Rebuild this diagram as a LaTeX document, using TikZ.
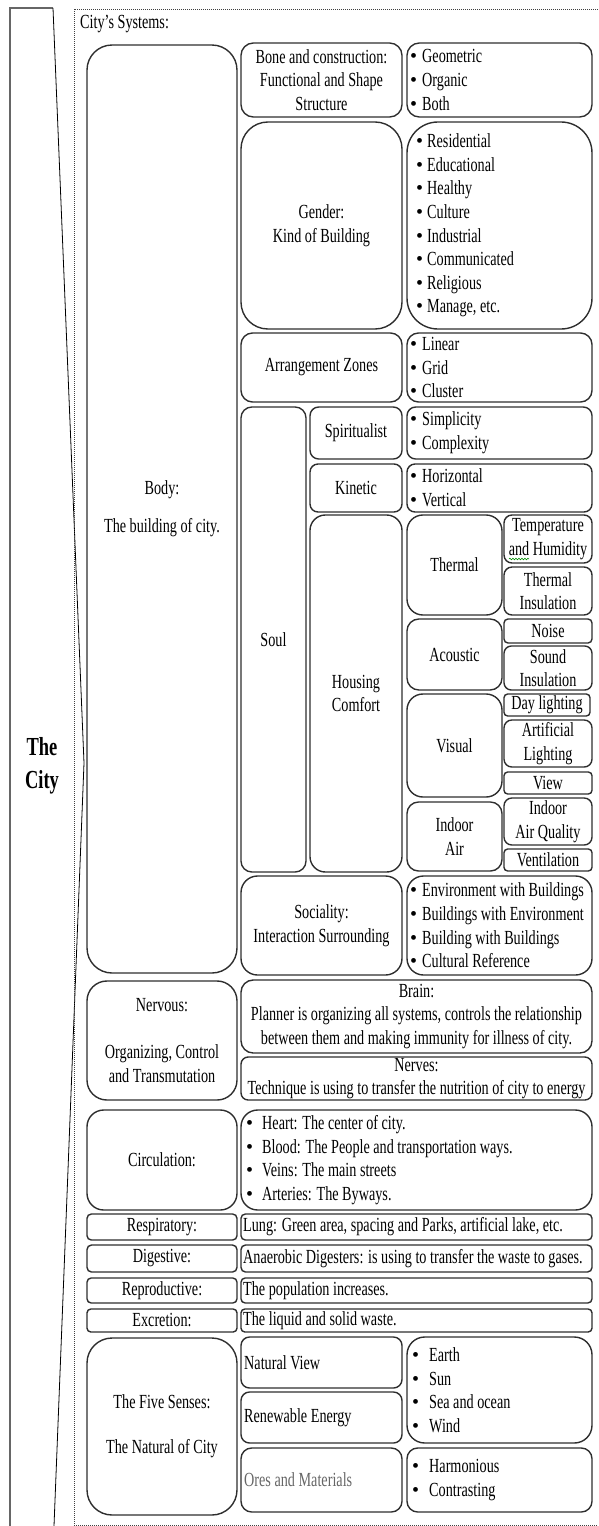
\documentclass[tikz,border=0pt]{standalone}
\usepackage{fontspec}
\setmainfont{Liberation Serif}[FakeStretch=0.71]
\newfontfamily\bulletfont{Liberation Serif}
\usetikzlibrary{decorations.pathmorphing}
\newcommand\txt{\fontsize{20}{23.6}\selectfont}
\newcommand\bl[1][12pt]{\makebox[#1][l]{{\bulletfont\textbullet}}}
\tikzset{
  box/.style={draw=black!82, line width=1.4pt, inner sep=0pt, align=center, font=\txt},
  txtnode/.style={inner sep=0pt, align=left, font=\txt},
  frame/.style={draw=black!75, line width=1pt, dash pattern=on 1pt off 1pt},
}
\newcommand\bx[7][]{%
  \pgfmathsetmacro\bxw{#5-#3}%
  \pgfmathsetmacro\bxh{#6-#4}%
  \pgfmathsetmacro\bxr{0.167*min(\bxw,\bxh)}%
  \node[box, minimum width=\bxw pt, minimum height=\bxh pt, rounded corners=\bxr pt, #1] (#2) at ({(#3+#5)/2},{(#4+#6)/2}) {#7};%
}
\newcommand\lbx[8][]{%
  \bx{#2}{#3}{#4}{#5}{#6}{}%
  \node[txtnode, anchor=west, #1] (#2t) at ({#3+#7},{(#4+#6)/2}) {#8};%
}
\begin{document}
\begin{tikzpicture}[x=1pt,y=-1pt]
\useasboundingbox (0,0) rectangle (598,1526);
% outer frames
\draw[black!60, line width=1.4pt] (10,1526) -- (10,8) -- (53,8);
\draw[black, line width=0.8pt] (53,8) -- (84,763) -- (54,1526);
\draw[frame] (598,9) -- (74,9) -- (74,1525) -- (598,1525);
\node[font=\bfseries\fontsize{26}{33}\selectfont, align=center, inner sep=0pt] (city) at (42,766) {The\\City};
\node[txtnode, anchor=west] (title) at (80,24) {City’s Systems:};
% Body
\bx{body}{87}{45}{237}{973}{Body:\\[14pt]The building of city.}
\bx{bone}{241}{43}{402}{117}{Bone and construction:\\Functional and Shape\\Structure}
\lbx{boneL}{407}{43}{592}{117}{3}{\bl Geometric\\\bl Organic\\\bl Both}
\bx{gender}{241}{122}{402}{329}{Gender:\\Kind of Building}
\lbx{genderL}{407}{122}{592}{329}{9}{\bl[11pt]Residential\\\bl[11pt]Educational\\\bl[11pt]Healthy\\\bl[11pt]Culture\\\bl[11pt]Industrial\\\bl[11pt]Communicated\\\bl[11pt]Religious\\\bl[11pt]Manage, etc.}
\bx{arr}{241}{333}{402}{402}{Arrangement Zones}
\lbx{arrL}{407}{333}{592}{402}{3}{\bl Linear\\\bl Grid\\\bl Cluster}
\bx{soul}{241}{407}{306}{872}{Soul}
\bx{spir}{310}{407}{402}{459}{Spiritualist}
\lbx{spirL}{407}{407}{592}{459}{3}{\bl Simplicity\\\bl Complexity}
\bx{kin}{310}{464}{402}{512}{Kinetic}
\lbx{kinL}{407}{464}{592}{512}{3}{\bl Horizontal\\\bl Vertical}
\bx{house}{310}{515}{402}{872}{Housing\\Comfort}
\bx{therm}{407}{515}{502}{615}{Thermal}
\bx{temp}{504}{515}{592}{563}{Temperature\\and Humidity}
\bx{thins}{504}{567}{592}{615}{Thermal\\Insulation}
\bx{acou}{407}{619}{502}{690}{Acoustic}
\bx{noise}{504}{619}{592}{643}{Noise}
\bx{sound}{504}{646}{592}{690}{Sound\\Insulation}
\bx{vis}{407}{694}{502}{797}{Visual}
\bx{day}{504}{694}{590}{716}{Day lighting}
\bx{art}{504}{720}{592}{767}{Artificial\\Lighting}
\bx{view}{504}{772}{592}{794}{View}
\bx{air}{407}{802}{502}{871}{Indoor\\Air}
\bx{iaq}{504}{798}{592}{845}{Indoor\\Air Quality}
\bx{vent}{504}{849}{592}{871}{Ventilation}
\draw[green!55!black, line width=0.6pt, decorate, decoration={snake, amplitude=0.8pt, segment length=3pt}] (509,559) -- (529,559);
\bx{soc}{241}{876}{402}{975}{Sociality:\\Interaction Surrounding}
\lbx{socL}{407}{876}{592}{975}{3}{\bl Environment with Buildings\\\bl Buildings with Environment\\\bl Building with Buildings\\\bl Cultural Reference}
% Nervous
\bx{nerv}{87}{981}{237}{1100}{Nervous:\\[24pt]Organizing, Control\\and Transmutation}
\bx{brain}{241}{980}{592}{1053}{Brain:\\Planner is organizing all systems, controls the relationship\\between them and making immunity for illness of city.}
\bx{nerves}{241}{1057}{592}{1100}{Nerves:\\Technique is using to transfer the nutrition of city to energy}
% Circulation
\bx{circ}{87}{1110}{237}{1210}{Circulation:}
\lbx{circL}{241}{1110}{592}{1210}{5}{\bl[16pt]Heart: The center of city.\\\bl[16pt]Blood: The People and transportation ways.\\\bl[16pt]Veins: The main streets\\\bl[16pt]Arteries: The Byways.}
\bx{resp}{87}{1214}{237}{1240}{Respiratory:}
\lbx{respL}{241}{1214}{592}{1240}{2}{Lung: Green area, spacing and Parks, artificial lake, etc.}
\bx{dig}{87}{1245}{237}{1272}{Digestive:}
\lbx{digL}{241}{1245}{592}{1272}{2}{Anaerobic Digesters: is using to transfer the waste to gases.}
\bx{repr}{87}{1278}{237}{1303}{Reproductive:}
\lbx{reprL}{241}{1278}{592}{1303}{2}{The population increases.}
\bx{excr}{87}{1309}{237}{1332}{Excretion:}
\lbx{excrL}{241}{1309}{592}{1332}{2}{The liquid and solid waste.}
% Five senses
\bx{five}{87}{1338}{237}{1515}{The Five Senses:\\[21pt]The Natural of City}
\lbx{natv}{241}{1337}{402}{1388}{3}{Natural View}
\lbx{renew}{241}{1392}{402}{1443}{3}{Renewable Energy}
\lbx[text=black!60]{ores}{241}{1448}{402}{1512}{3}{Ores and Materials}
\lbx{earth}{407}{1337}{592}{1443}{5}{\bl[17pt]Earth\\\bl[17pt]Sun\\\bl[17pt]Sea and ocean\\\bl[17pt]Wind}
\lbx{harm}{407}{1448}{592}{1512}{5}{\bl[17pt]Harmonious\\\bl[17pt]Contrasting}
\end{tikzpicture}
\end{document}
